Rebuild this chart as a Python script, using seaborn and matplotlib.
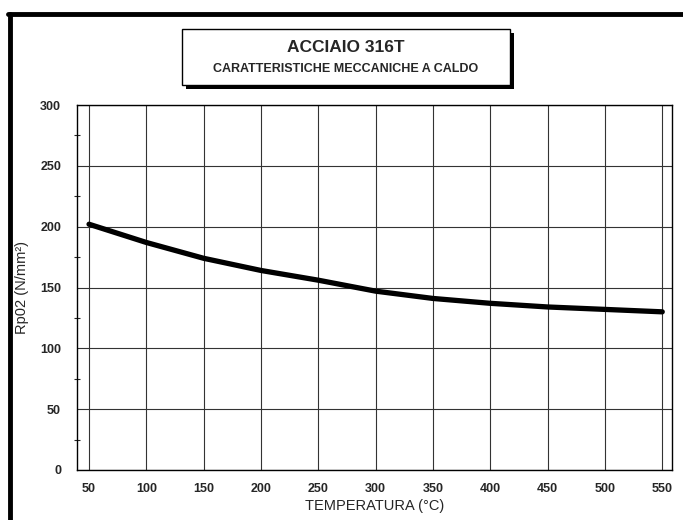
import numpy as np
import pandas as pd
import seaborn as sns
import matplotlib.pyplot as plt
from matplotlib.patches import Rectangle
from matplotlib.lines import Line2D

# values
temperatura = [50, 100, 150, 200, 250, 300, 350, 400, 450, 500, 550]
rp02 = [202, 187, 174, 164, 156, 147, 141, 137, 134, 132, 130]

df = pd.DataFrame({"temp": temperatura, "rp02": rp02})

sns.set_style("white")
plt.rcParams['font.family'] = ['Liberation Sans', 'DejaVu Sans']

fig = plt.figure(figsize=(6.83, 5.2), dpi=100)
ax = fig.add_axes([77/683, 1-470/520, (672-77)/683, (470-105)/520])

sns.lineplot(data=df, x="temp", y="rp02", ax=ax, color="black", linewidth=3.8)

ax.set_xlim(39.5, 558.5)
ax.set_ylim(0, 300)
ax.set_xticks(temperatura)
ax.set_yticks(np.arange(0, 301, 50))
ax.set_yticks(np.arange(0, 301, 25), minor=True)
ax.grid(True, which="major", color="#333333", linewidth=0.8)
ax.set_axisbelow(True)
for s in ax.spines.values():
    s.set_color("black")
    s.set_linewidth(1.0)
ax.tick_params(axis="both", which="major", direction="inout", length=5, width=0.8,
               labelsize=9, color="black")
ax.tick_params(axis="y", which="minor", direction="inout", length=4, width=0.8, left=True)
for lab in ax.get_xticklabels() + ax.get_yticklabels():
    lab.set_fontweight("bold")
ax.tick_params(axis="x", pad=7)
ax.tick_params(axis="y", pad=9)

ax.set_xlabel("TEMPERATURA (°C)", fontsize=10.5, labelpad=3)
ax.set_ylabel("Rp02 (N/mm²)", fontsize=10.5, labelpad=8)

# title box with shadow
fig.patches.append(Rectangle((186/683, 1-89/520), (510-182)/683, (85-29)/520,
                             transform=fig.transFigure, facecolor="black", edgecolor="none"))
fig.patches.append(Rectangle((182/683, 1-85/520), (510-182)/683, (85-29)/520,
                             transform=fig.transFigure, facecolor="white", edgecolor="black",
                             linewidth=1.0))
fig.text(346/683, 1-47/520, "ACCIAIO 316T", ha="center", va="center",
         fontsize=12.5, fontweight="bold")
fig.text(346/683, 1-69/520, "CARATTERISTICHE MECCANICHE A CALDO", ha="center", va="center",
         fontsize=9, fontweight="bold")

# outer frame (left and top)
fig.lines.append(Line2D([10/683, 10/683], [0, 1-14/520], transform=fig.transFigure,
                        color="black", linewidth=3.5))
fig.lines.append(Line2D([8/683, 1], [1-14/520, 1-14/520], transform=fig.transFigure,
                        color="black", linewidth=3.5))

fig.savefig("out.png", dpi=100)
